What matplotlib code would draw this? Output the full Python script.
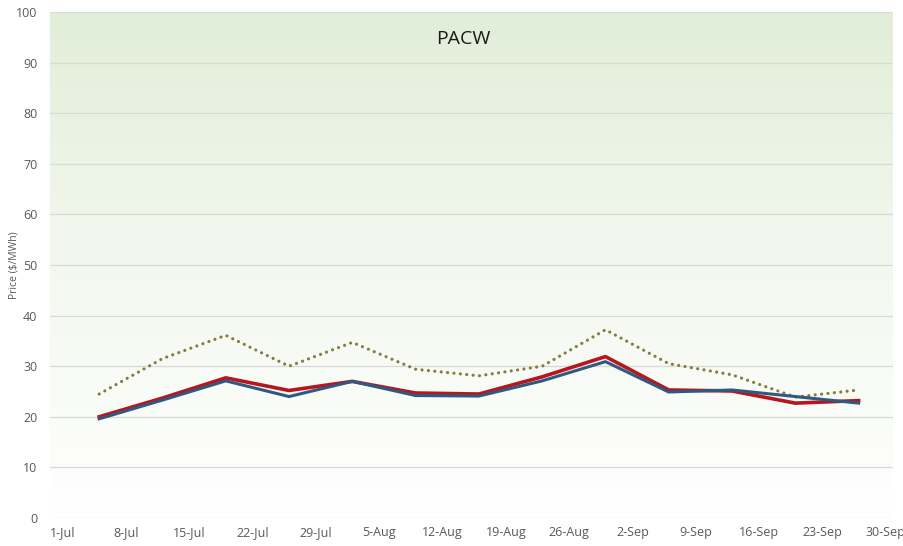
import numpy as np
import pandas as pd
import matplotlib
matplotlib.use("Agg")
import matplotlib.pyplot as plt
from matplotlib.colors import LinearSegmentedColormap

# weekly observation dates
dates = pd.to_datetime([
    "2019-07-05", "2019-07-12", "2019-07-19", "2019-07-26", "2019-08-02",
    "2019-08-09", "2019-08-16", "2019-08-23", "2019-08-30", "2019-09-06",
    "2019-09-13", "2019-09-20", "2019-09-27",
])

red_series = [20.0, 23.7, 27.7, 25.2, 27.0, 24.7, 24.5, 27.9, 31.9, 25.3, 25.1, 22.7, 23.2]
blue_series = [19.6, 23.3, 27.1, 24.0, 27.0, 24.2, 24.1, 27.1, 30.9, 24.9, 25.3, 24.0, 22.7]
dotted_series = [24.5, 31.5, 36.1, 30.0, 34.7, 29.4, 28.1, 30.0, 37.2, 30.5, 28.3, 23.9, 25.3]

tick_dates = pd.date_range("2019-07-01", "2019-09-30", freq="7D")
tick_labels = ["1-Jul", "8-Jul", "15-Jul", "22-Jul", "29-Jul", "5-Aug", "12-Aug",
               "19-Aug", "26-Aug", "2-Sep", "9-Sep", "16-Sep", "23-Sep", "30-Sep"]

title = "PACW"
y_label = "Price ($/MWh)"

plt.rcParams["font.family"] = ["Open Sans", "DejaVu Sans"]

fig = plt.figure(figsize=(9.04, 5.46), dpi=100)
fig.patch.set_facecolor("white")
ax = fig.add_axes([0.0553, 0.0513, 0.9325, 0.9267])

start = pd.Timestamp("2019-07-01")
x0 = start - pd.Timedelta(days=1.44)
x1 = start + pd.Timedelta(days=91.8)

# gradient background (green at top fading to white)
cmap = LinearSegmentedColormap.from_list("bg", ["#FFFFFF", "#F3F8EF", "#E1EED8"])
grad = np.linspace(0, 1, 256).reshape(-1, 1)
ax.imshow(grad, cmap=cmap, origin="lower", aspect="auto",
          extent=[matplotlib.dates.date2num(x0), matplotlib.dates.date2num(x1), 0, 100],
          zorder=0)
ax.set_xlim(x0, x1)
ax.set_ylim(0, 100)

ax.set_yticks(np.arange(0, 101, 10))
ax.grid(axis="y", color="#D9D9D9", linewidth=0.9, zorder=1)
ax.set_axisbelow(True)
for s in ax.spines.values():
    s.set_visible(False)

ax.plot(dates, dotted_series, color="#857C3C", linewidth=2.3,
        linestyle=(0, (0.01, 2.0)), dash_capstyle="round", zorder=3)
ax.plot(dates, red_series, color="#B8161E", linewidth=2.6, zorder=4)
ax.plot(dates, blue_series, color="#2F5980", linewidth=2.2, zorder=5)

ax.set_xticks(tick_dates)
ax.set_xticklabels(tick_labels)
ax.tick_params(axis="both", length=0, labelsize=9, colors="#595959", pad=6)
ax.tick_params(axis="y", pad=9)

ax.set_ylabel(y_label, fontsize=7.5, color="#595959")
ax.yaxis.set_label_coords(-0.036, 0.5)
ax.text(0.49, 0.965, title, transform=ax.transAxes, ha="center", va="top",
        fontsize=14, color="#1a1a1a")

fig.savefig("out.png", dpi=100)
